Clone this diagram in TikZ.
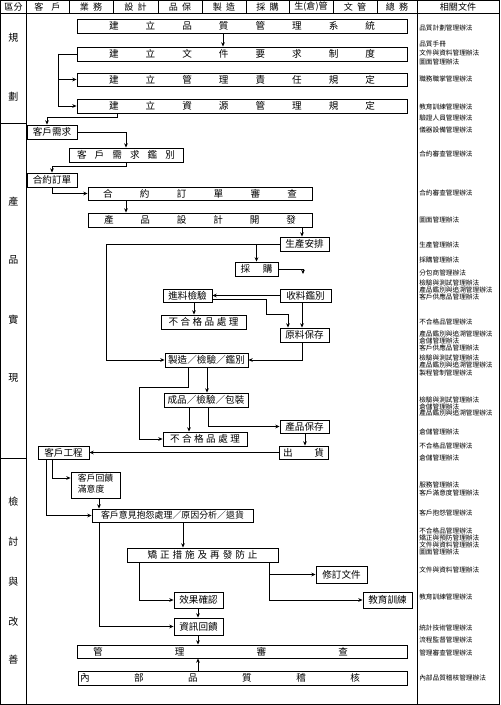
\documentclass[tikz,border=0pt]{standalone}
\usepackage{fontspec}
\setmainfont{Noto Sans CJK TC}
\usetikzlibrary{arrows.meta}
\newdimen\px \px=0.75pt
\newcommand\spr[2]{\makebox[#1\px]{#2}}
\newcommand\bx[6]{\node[box, minimum width={(#4-#2)*0.75pt}, minimum height={(#5-#3)*0.75pt}] (#1) at ({(#2+#4)/2},{(#3+#5)/2}) {#6};}
\begin{document}
\begin{tikzpicture}[x=0.75pt,y=-0.75pt,
 box/.style={draw, line width=0.7pt, inner sep=0pt, font=\fontsize{7.2}{8.6}\selectfont},
 arr/.style={line width=0.6pt, -{Stealth[length=3.2pt,width=2.8pt]}},
 ln/.style={line width=0.6pt},
 doc/.style={anchor=west, inner sep=0pt, font=\fontsize{5}{6}\selectfont},
 hdr/.style={inner sep=0pt, font=\fontsize{6.8}{8}\selectfont},
 sec/.style={inner sep=0pt, font=\fontsize{7.5}{9}\selectfont}]
\useasboundingbox (0,0) rectangle (500,705);
% frame and grid
\draw[line width=0.8pt] (0.5,0.5) rectangle (499.5,704.3);
\draw[ln] (0.5,13) -- (499.5,13);
\foreach \x in {26,417} \draw[ln] (\x,0.5) -- (\x,704.3);
\foreach \x in {69,113,158,202,246,289,333,377} \draw[ln] (\x,0.5) -- (\x,13);
\draw[ln] (0.5,123) -- (26,123);
\draw[ln] (0.5,458) -- (26,458);
% header
\node[hdr] (h1) at (13.5,7) {區分};
\node[hdr] (h2) at (47.5,7) {客\hspace{6pt}戶};
\node[hdr] (h3) at (91,7) {業\hspace{3pt}務};
\node[hdr] (h4) at (135.5,7) {設\hspace{3pt}計};
\node[hdr] (h5) at (180,7) {品\hspace{3pt}保};
\node[hdr] (h6) at (224,7) {製\hspace{3pt}造};
\node[hdr] (h7) at (267.5,7) {採\hspace{3pt}購};
\node[hdr] (h8) at (311,7) {生(倉)管};
\node[hdr] (h9) at (355,7) {文\hspace{3pt}管};
\node[hdr] (h10) at (397,7) {總\hspace{3pt}務};
\node[hdr] (h11) at (458,7) {相關文件};
% section labels
\foreach \yy/\ch [count=\i] in {38/規,97/劃,202/產,260/品,320/實,378/現,502/檢,542/討,582/與,622/改,660/善}
  \node[sec] (s\i) at (13.5,\yy) {\ch};
% planning
\bx{p1}{77}{19}{407}{33}{\spr{266}{建\hfill 立\hfill 品\hfill 質\hfill 管\hfill 理\hfill 系\hfill 統}}
\bx{p2}{77}{47}{407}{61}{\spr{266}{建\hfill 立\hfill 文\hfill 件\hfill 要\hfill 求\hfill 制\hfill 度}}
\bx{p3}{77}{73}{407}{86}{\spr{266}{建\hfill 立\hfill 管\hfill 理\hfill 責\hfill 任\hfill 規\hfill 定}}
\bx{p4}{77}{99}{407}{113}{\spr{266}{建\hfill 立\hfill 資\hfill 源\hfill 管\hfill 理\hfill 規\hfill 定}}
% production
\bx{c1}{27}{125}{77}{139}{客戶需求}
\bx{c2}{69}{148}{183}{162}{\spr{98}{客\hfill 戶\hfill 需\hfill 求\hfill 鑑\hfill 別}}
\bx{c3}{27}{173}{77}{187}{合約訂單}
\bx{c4}{88}{187}{312}{200}{\spr{194}{合\hfill 約\hfill 訂\hfill 單\hfill 審\hfill 查}}
\bx{c5}{88}{213}{312}{227}{\spr{192}{產\hfill 品\hfill 設\hfill 計\hfill 開\hfill 發}}
\bx{c6}{280}{237}{329}{251}{生產安排}
\bx{c7}{235}{262}{278}{276}{\spr{32}{採\hfill 購}}
\bx{c8}{163}{289}{212}{302}{進料檢驗}
\bx{c9}{280}{289}{331}{302}{收料鑑別}
\bx{c10}{161}{315}{246}{329}{\spr{70}{不\hfill 合\hfill 格\hfill 品\hfill 處\hfill 理}}
\bx{c11}{280}{328}{329}{342}{原料保存}
\bx{c12}{165}{353}{248}{367}{製造／檢驗／鑑別}
\bx{c13}{164}{393}{248}{407}{成品／檢驗／包裝}
\bx{c14}{163}{432}{247}{446}{\spr{70}{不\hfill 合\hfill 格\hfill 品\hfill 處\hfill 理}}
\bx{c15}{280}{420}{329}{433}{產品保存}
\bx{c16}{279}{446}{328}{459}{\spr{41}{出\hfill 貨}}
\bx{c17}{38}{446}{89}{459}{客戶工程}
% review
\bx{r1}{71}{472}{120}{498}{\fontsize{6.6}{8.3}\selectfont\begin{tabular}{@{}l@{}}客戶回饋\\滿意度\end{tabular}}
\bx{r2}{92}{509}{253}{522}{\fontsize{6.7}{8}\selectfont 客戶意見抱怨處理／原因分析／退貨}
\bx{r3}{127}{548}{278}{562}{\spr{110}{矯\hfill 正\hfill 措\hfill 施\hfill 及\hfill 再\hfill 發\hfill 防\hfill 止}}
\bx{r4}{316}{566}{367}{583}{修訂文件}
\bx{r5}{174}{592}{223}{608}{效果確認}
\bx{r6}{363}{592}{412}{608}{教育訓練}
\bx{r7}{174}{618}{223}{635}{資訊回饋}
\bx{r8}{77}{645}{407}{658}{\makebox[330\px][l]{\hspace*{16\px}\spr{255}{管\hfill 理\hfill 審\hfill 查}}}
\bx{r9}{78}{671}{407}{685}{\makebox[329\px][l]{\hspace*{2\px}\spr{280}{內\hfill 部\hfill 品\hfill 質\hfill 稽\hfill 核}}}
\coordinate (dn) at (303,274);
% connectors planning
\draw[arr] (p1.south -| 223,0) -- (p2.north -| 223,0);
\draw[ln] (p2.west) -- (p2.west -| 58,0) -- (58,106);
\draw[arr] (p2.west -| 58,0) |- (p3.west);
\draw[arr] (p2.west -| 58,0) |- (p4.west);
\draw[arr] (p4.south -| 117,0) -- (117,117) -| (c1.north -| 47,0);
% connectors production
\draw[arr] (c1.east) -| (c2.north);
\draw[arr] (c2.south) -- (126,166) -| (c3.north);
\draw[arr] (c3.south) |- (c4.west);
\draw[arr] (c4.south -| 126,0) -- (c5.north -| 126,0);
\draw[arr] (c5.south -| 302,0) -- (c6.north -| 302,0);
\draw[arr] (c6.west) -- (c6.west -| 106,0) |- (c12.west);
\draw[arr] (c6.west -| c7.north) -- (c7.north);
\draw[arr] (c7.east) -| (dn);
\draw[arr] (c9.west) -- (c8.east);
\draw[arr] (c8.south -| 194,0) -- (c10.north -| 194,0);
\draw[arr] (c8.east |- 0,299) -| (266,314) -| (c11.north -| 288,0);
\draw[arr] (c9.south -| 302,0) -- (c11.north -| 302,0);
\draw[arr] (c11.south -| 302,0) |- (c12.east);
\draw[arr] (c12.south -| 188,0) -- (188,387) -| (c14.west -| 139,0) -- (c14.west);
\draw[arr] (c12.south -| 207,0) -- (c13.north -| 207,0);
\draw[arr] (c13.south -| 189,0) -- (c14.north -| 189,0);
\draw[arr] (c13.south -| 208,0) |- (c15.west);
\draw[arr] (c15.south -| 305,0) -- (c16.north -| 305,0);
\draw[arr] (c16.west) -- (c17.east);
% connectors review
\draw[arr] (c17.south -| 52,0) |- (r1.west |- 0,478);
\draw[arr] (c17.south -| 46,0) |- (r2.west);
\draw[arr] (r1.south -| 99,0) -- (r2.north -| 99,0);
\draw[arr] (r2.south -| 183,0) -- (r3.north -| 183,0);
\draw[arr] (r2.south -| 99,0) |- (r7.west);
\draw[arr] (r3.south -| 139,0) |- (r5.west);
\draw[arr] (r3.south -| 269,0) |- (r6.west);
\draw[arr] (r3.south -| 269,0) |- (r4.west);
\draw[arr] (r5.south -| 198,0) -- (r7.north -| 198,0);
\draw[arr] (r7.south -| 198,0) -- (r8.north -| 198,0);
\draw[arr] (r9.north -| 198,0) -- (r8.south -| 198,0);
% documents
\foreach \yy/\dt [count=\i] in {28/品質計劃管理辦法,44/品質手冊,53/文件與資料管理辦法,62/圖面管理辦法,79/職務職掌管理辦法,107/教育訓練管理辦法,118/驗證人員管理辦法,130/儀器設備管理辦法,154/合約審查管理辦法,193/合約審查管理辦法,220/圖面管理辦法,245/生產管理辦法,260/採購管理辦法,273/分包商管理辦法,283/檢驗與測試管理辦法,290/產品鑑別與追溯管理辦法,297/客戶供應品管理辦法,322/不合格品管理辦法,334/產品鑑別與追溯管理辦法,341/倉儲管理辦法,348/客戶供應品管理辦法,358/檢驗與測試管理辦法,365/產品鑑別與追溯管理辦法,373/製程管制管理辦法,400/檢驗與測試管理辦法,407/倉儲管理辦法,413/產品鑑別與追溯管理辦法,432/倉儲管理辦法,446/不合格品管理辦法,458/倉儲管理辦法,485/服務管理辦法,493/客戶滿意度管理辦法,513/客戶抱怨管理辦法,531/不合格品管理辦法,538/矯正與預防管理辦法,545/文件與資料管理辦法,552/圖面管理辦法,570/文件與資料管理辦法,597/教育訓練管理辦法,628/統計技術管理辦法,640/流程監督管理辦法,653/管理審查管理辦法,678/內部品質稽核管理辦法}
  \node[doc] (d\i) at (419,\yy) {\dt};
\end{tikzpicture}
\end{document}
